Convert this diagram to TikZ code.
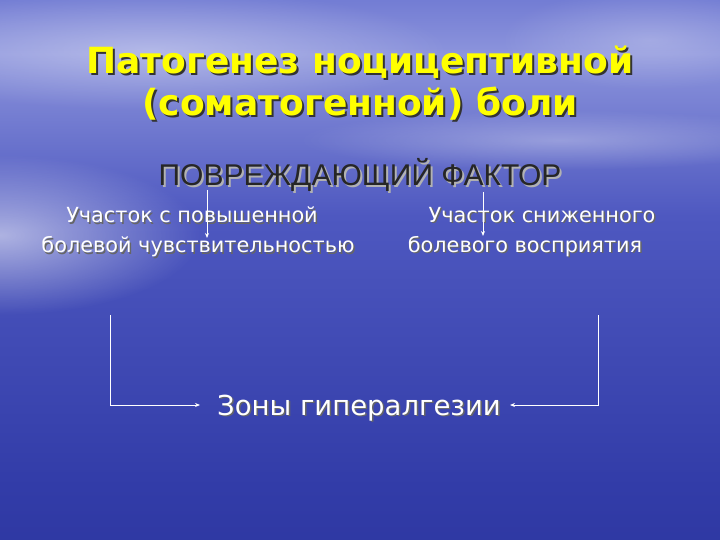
\documentclass[tikz,border=0pt]{standalone}
\usepackage{fontspec}
\setmainfont{DejaVu Sans}
\newfontfamily\arialf{Liberation Sans}
\usetikzlibrary{arrows.meta,fadings}
\definecolor{bgA}{RGB}{32,40,140}
\definecolor{bgB}{RGB}{50,60,168}
\definecolor{bgC}{RGB}{78,88,192}
\definecolor{bgD}{RGB}{140,148,220}
\definecolor{bgE}{RGB}{110,120,210}
\definecolor{bgF}{RGB}{95,105,200}
\definecolor{bgG}{RGB}{85,95,190}
\definecolor{titley}{RGB}{255,255,0}
\pgfdeclareverticalshading{bgsh}{100bp}{color(0bp)=(bgA); color(30bp)=(bgB); color(55bp)=(bgC); color(70bp)=(bgD); color(76bp)=(bgE); color(90bp)=(bgF); color(100bp)=(bgG)}
\tikzfading[name=softglow, inner color=transparent!0, outer color=transparent!100]
\tikzset{
  titletext/.style={font=\fontsize{36}{42}\selectfont\bfseries, text=titley, align=center, inner sep=0pt},
  titleshadow/.style={titletext, text=black!80},
  factortext/.style={font=\arialf\fontsize{30}{34}\selectfont, text=black!85, inner sep=0pt},
  factorshadow/.style={factortext, text=gray!60},
  bodytext/.style={font=\fontsize{20.8}{30}\selectfont, text=white, align=center, inner sep=0pt},
  bodyshadow/.style={bodytext, text=black!60},
  zonetext/.style={font=\fontsize{27.5}{32}\selectfont, text=white, inner sep=0pt},
  zoneshadow/.style={zonetext, text=black!60},
  conn/.style={draw=white, line width=1pt, -{Stealth[length=5pt,width=4pt]}},
  glow/.style={fill=white, path fading=softglow}
}
\begin{document}
\begin{tikzpicture}[x=1pt,y=-1pt]
\useasboundingbox (0,0) rectangle (720,540);
\shade[shading=bgsh] (0,0) rectangle (720,540);
\fill[glow, opacity=0.55] (0,235) ellipse (200 and 80);
\fill[glow, opacity=0.35] (150,50) ellipse (300 and 60);
\fill[glow, opacity=0.30] (560,140) ellipse (260 and 30);
\fill[glow, opacity=0.25] (650,40) ellipse (150 and 50);
% title
\node[titleshadow] at (362,85) {Патогенез ноцицептивной\\(соматогенной) боли};
\node[titletext] (title) at (360,83) {Патогенез ноцицептивной\\(соматогенной) боли};
% factor
\node[factorshadow] at (362,177) {ПОВРЕЖДАЮЩИЙ ФАКТОР};
\node[factortext] (factor) at (360,175) {ПОВРЕЖДАЮЩИЙ ФАКТОР};
% left/right
\node[bodyshadow] at (199.5,233.5) {Участок с повышенной\hspace*{12pt}\\болевой чувствительностью};
\node[bodytext] (left) at (198,232) {Участок с повышенной\hspace*{12pt}\\болевой чувствительностью};
\node[bodyshadow] at (526.5,233.5) {\hspace*{34pt}Участок сниженного\\болевого восприятия};
\node[bodytext] (right) at (525,232) {\hspace*{34pt}Участок сниженного\\болевого восприятия};
% zones
\node[zoneshadow] at (360.5,409.5) {Зоны гипералгезии};
\node[zonetext] (zone) at (359,408) {Зоны гипералгезии};
% arrows from factor
\coordinate (fL) at (207,190);
\coordinate (lT) at (207,238);
\coordinate (fR) at (483,192);
\coordinate (rT) at (483,236);
\draw[conn] (fL) -- (lT);
\draw[conn] (fR) -- (rT);
% bracket connectors
\coordinate (lA) at (110,315);
\coordinate (lB) at (110,405);
\coordinate (lC) at (200,405);
\coordinate (rA) at (598,315);
\coordinate (rB) at (598,405);
\coordinate (rC) at (510,405);
\draw[conn] (lA) -- (lB) -- (lC);
\draw[conn] (rA) -- (rB) -- (rC);
\end{tikzpicture}
\end{document}
